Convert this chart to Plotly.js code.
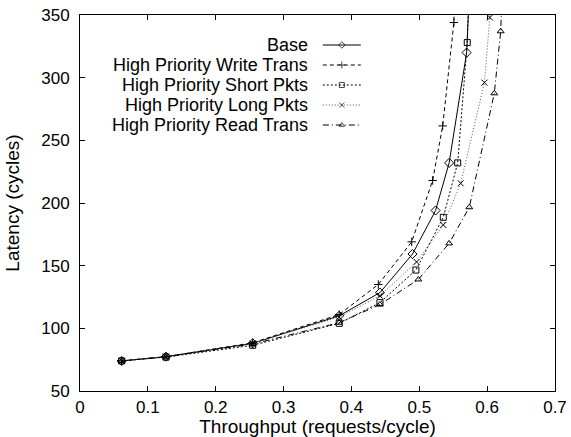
<!DOCTYPE html>
<html>
<head>
<meta charset="utf-8">
<script src="https://cdn.plot.ly/plotly-3.0.1.min.js"></script>
<style>html,body{margin:0;padding:0;background:#fff}#chart{width:571px;height:437px}</style>
</head>
<body>
<div id="chart"></div>
<script>
// Series names
const seriesNames = ["Base", "High Priority Write Trans", "High Priority Short Pkts", "High Priority Long Pkts", "High Priority Read Trans"];

// Throughput (requests/cycle) per series
const baseX  = [0.0614, 0.1267, 0.2545, 0.382, 0.442, 0.490, 0.524, 0.544, 0.5698, 0.578];
const writeX = [0.0614, 0.1267, 0.2545, 0.382, 0.4396, 0.4888, 0.5197, 0.5345, 0.551, 0.554];
const shortX = [0.0614, 0.1267, 0.2545, 0.382, 0.442, 0.495, 0.5354, 0.5566, 0.5707, 0.576];
const longX  = [0.0614, 0.1267, 0.2545, 0.382, 0.442, 0.496, 0.5354, 0.561, 0.596, 0.604, 0.608];
const readX  = [0.0614, 0.1267, 0.2545, 0.382, 0.442, 0.4986, 0.544, 0.5737, 0.6105, 0.620, 0.625];

// Latency (cycles) per series
const baseY  = [74, 77.4, 88, 110, 128.5, 159.3, 194, 232, 320, 420];
const writeY = [74, 77.4, 88.5, 111, 135, 169, 218, 261.5, 344, 420];
const shortY = [74, 77, 86.5, 104, 120.5, 146.5, 188.6, 232, 328, 420];
const longY  = [74, 77.4, 88, 109, 126, 153, 182.5, 215.7, 296, 348, 420];
const readY  = [74, 77.4, 87.5, 104.5, 119, 139, 167.8, 196.6, 287.5, 337, 420];

// Axis ticks
const xTicks = [0, 0.1, 0.2, 0.3, 0.4, 0.5, 0.6, 0.7];
const yTicks = [50, 100, 150, 200, 250, 300, 350];

const xs = [baseX, writeX, shortX, longX, readX];
const ys = [baseY, writeY, shortY, longY, readY];
const dashes = ["solid", "4px,3px", "2px,2px", "1px,2px", "6px,3px,1px,3px"];
const symbols = ["diamond-open", "cross-thin-open", "square-open", "x-thin-open", "triangle-up-open"];
const sizes = [7, 6, 6, 6, 6];
const lineColors = ["#000", "#000", "#000", "#555", "#000"];

const FONT = "Liberation Sans, Arial, sans-serif";
const traces = [];
for (let i = 0; i < 5; i++) {
  traces.push({
    x: xs[i], y: ys[i], type: "scatter", mode: "lines+markers",
    name: seriesNames[i], showlegend: false, cliponaxis: true,
    line: {color: lineColors[i], width: 1, dash: dashes[i]},
    marker: {symbol: symbols[i], size: sizes[i], color: "#000", line: {color: "#000", width: 1}}
  });
}
// Legend keys (gnuplot style: text then sample) on a hidden overlay axis
const keyRows = [0, 1, 2, 3, 4];
const annotations = [];
for (let i = 0; i < 5; i++) {
  const yk = keyRows[i];
  traces.push({
    x: [0, 0.5, 1], y: [yk, yk, yk], xaxis: "x2", yaxis: "y2", type: "scatter",
    mode: "lines+markers", showlegend: false, hoverinfo: "skip",
    line: {color: lineColors[i], width: 1, dash: dashes[i]},
    marker: {symbol: symbols[i], size: [0, 5, 0], color: "#000", line: {color: "#000", width: 1}}
  });
  annotations.push({
    xref: "x2", yref: "y2", x: 0, y: yk, text: seriesNames[i], showarrow: false,
    xanchor: "right", yanchor: "middle", xshift: -15, borderpad: 0, borderwidth: 0,
    font: {family: FONT, size: 18, color: "#000"}
  });
}

const layout = {
  width: 571, height: 437,
  margin: {l: 80, r: 16, t: 15, b: 46},
  paper_bgcolor: "#fff", plot_bgcolor: "#fff",
  showlegend: false,
  font: {family: FONT, size: 17, color: "#000"},
  xaxis: {
    range: [0, 0.7], tickvals: xTicks, ticktext: xTicks.map(String),
    showgrid: false, zeroline: false, showline: true, mirror: "allticks",
    linecolor: "#000", linewidth: 1, ticks: "inside", ticklen: 5, tickcolor: "#000",
    tickfont: {family: FONT, size: 17}, ticklabelstandoff: 1,
    title: {text: "Throughput (requests/cycle)", font: {family: FONT, size: 19}, standoff: 2}
  },
  yaxis: {
    range: [50, 350], tickvals: yTicks,
    showgrid: false, zeroline: false, showline: true, mirror: "allticks",
    linecolor: "#000", linewidth: 1, ticks: "inside", ticklen: 5, tickcolor: "#000",
    tickfont: {family: FONT, size: 17}, ticklabelstandoff: 6,
    title: {text: "Latency (cycles)", font: {family: FONT, size: 19}, standoff: 16}
  },
  xaxis2: {overlaying: "x", domain: [0, 1], range: [-6.39, 6.11], visible: false, fixedrange: true},
  yaxis2: {overlaying: "y", range: [17.3, -1.5], visible: false, fixedrange: true},
  annotations: annotations
};
Plotly.newPlot("chart", traces, layout, {staticPlot: true, displayModeBar: false});
</script>
</body>
</html>
